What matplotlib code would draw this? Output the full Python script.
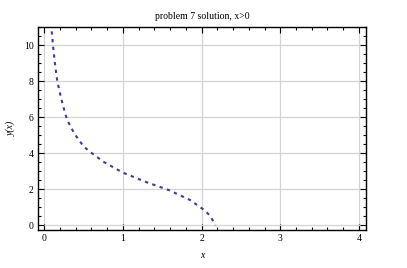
import matplotlib
matplotlib.use("Agg")
import matplotlib.pyplot as plt
from matplotlib.ticker import MultipleLocator

# Data
x_vals = [0.094, 0.115, 0.14, 0.165, 0.208, 0.25, 0.29, 0.38, 0.50, 0.59, 0.75,
          1.0, 1.30, 1.58, 1.85, 2.02, 2.10, 2.16, 2.175]
y_vals = [10.76, 9.78, 8.8, 8.0, 7.15, 6.45, 5.85, 5.1, 4.37, 4.05, 3.53,
          2.92, 2.39, 1.96, 1.41, 0.89, 0.57, 0.14, 0.0]

title = "problem 7 solution, x>0"
xlabel = "x"
ylabel = "y(x)"
xticks = [0, 1, 2, 3, 4]
yticks = [0, 2, 4, 6, 8, 10]

plt.rcParams['font.family'] = ['Liberation Serif', 'DejaVu Serif']

fig = plt.figure(figsize=(4.07, 2.68), dpi=100)
ax = fig.add_axes([38/407, 1 - 230/268, (366-38)/407, (230-27)/268])

ax.plot(x_vals, y_vals, color='#3d3d99', lw=1.5, linestyle=(0, (1.6, 2.1)))

ax.set_xlim(-0.08, 4.09)
ax.set_ylim(-0.26, 11.0)
ax.set_xticks(xticks)
ax.set_yticks(yticks)
ax.xaxis.set_minor_locator(MultipleLocator(0.2))
ax.yaxis.set_minor_locator(MultipleLocator(0.5))
ax.grid(True, which='major', color='#d4d4d4', lw=0.9)
ax.set_axisbelow(True)

ax.tick_params(which='both', direction='in', top=True, right=True, labelsize=7, pad=3, width=0.8)
ax.tick_params(which='major', length=4)
ax.tick_params(which='minor', length=2)
for s in ax.spines.values():
    s.set_linewidth(1.0)

ax.set_title(title, fontsize=7, pad=6)
ax.set_xlabel(xlabel, fontsize=7, style='italic', labelpad=6)
ax.set_ylabel(ylabel, fontsize=7, style='italic', labelpad=6)

fig.savefig("out.png", dpi=100)
